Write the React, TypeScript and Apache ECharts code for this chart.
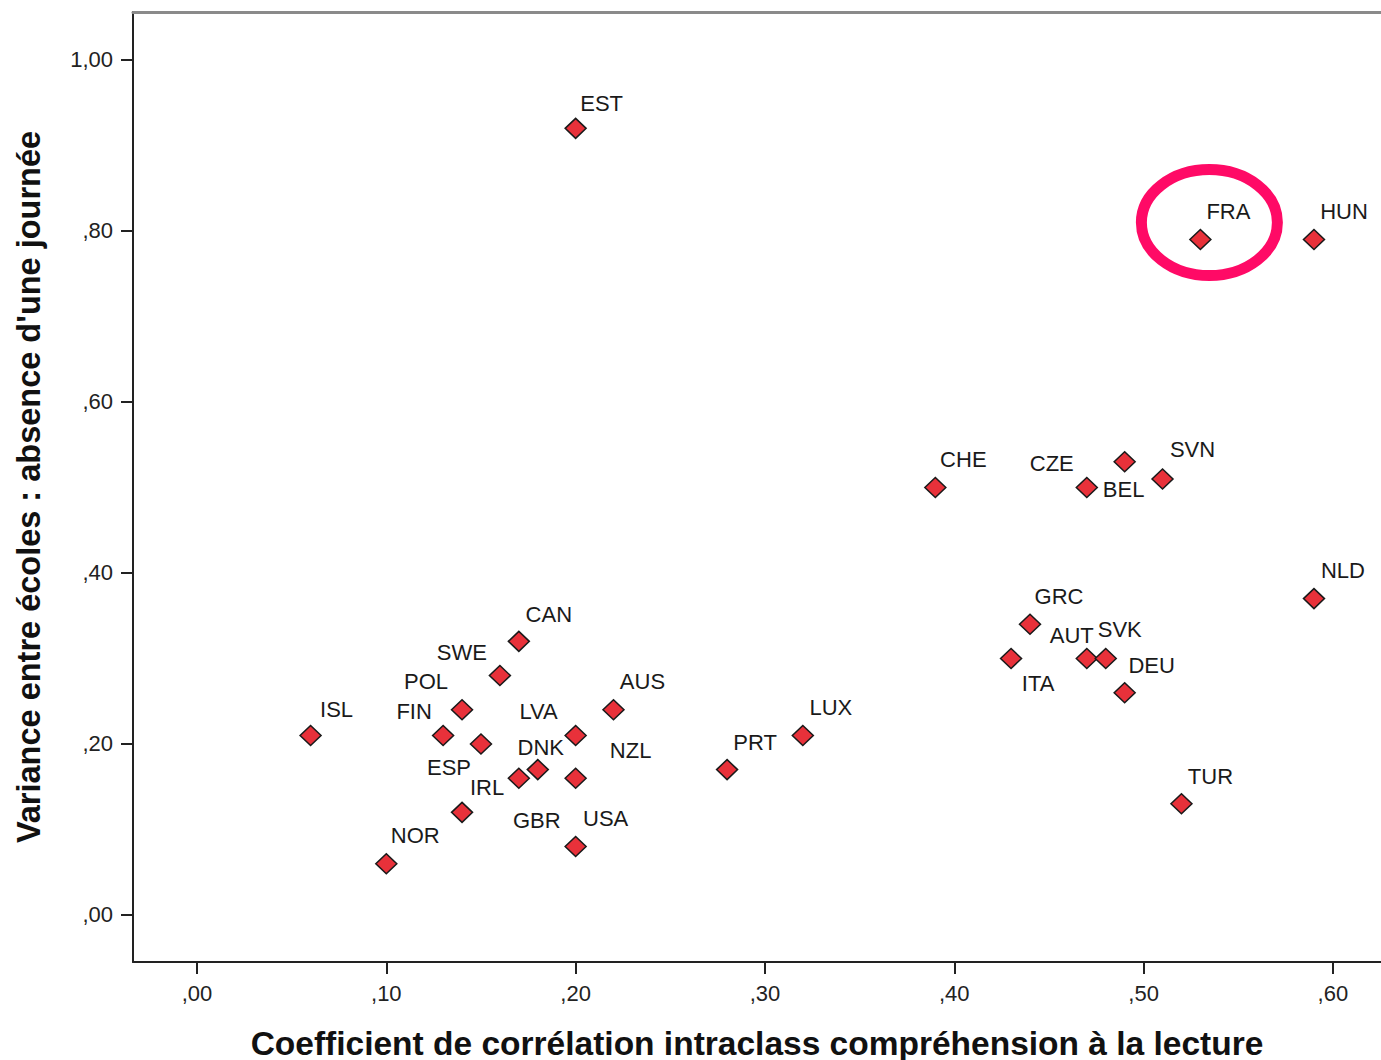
import React, { useEffect, useRef } from "react";
import * as echarts from "echarts";

const CODES = [
  "EST", "FRA", "HUN", "CHE", "CZE", "BEL", "SVN", "NLD", "GRC", "ITA",
  "AUT", "SVK", "DEU", "TUR", "LUX", "PRT", "NOR", "ISL", "CAN", "SWE",
  "POL", "FIN", "ESP", "LVA", "AUS", "GBR", "DNK", "NZL", "IRL", "USA",
];
const ICC_READING = [
  0.20, 0.53, 0.59, 0.39, 0.47, 0.49, 0.51, 0.59, 0.44, 0.43,
  0.47, 0.48, 0.49, 0.52, 0.32, 0.28, 0.10, 0.06, 0.17, 0.16,
  0.14, 0.13, 0.15, 0.20, 0.22, 0.17, 0.18, 0.20, 0.14, 0.20,
];
const VAR_ABSENCE = [
  0.92, 0.79, 0.79, 0.50, 0.50, 0.53, 0.51, 0.37, 0.34, 0.30,
  0.30, 0.30, 0.26, 0.13, 0.21, 0.17, 0.06, 0.21, 0.32, 0.28,
  0.24, 0.21, 0.20, 0.21, 0.24, 0.16, 0.17, 0.16, 0.12, 0.08,
];
const X_TICKS = [0, 0.1, 0.2, 0.3, 0.4, 0.5, 0.6];
const Y_TICKS = [0, 0.2, 0.4, 0.6, 0.8, 1.0];
const X_TITLE = "Coefficient de corrélation intraclass compréhension à la lecture";
const Y_TITLE = "Variance entre écoles : absence d'une journée";
const HIGHLIGHT = "FRA";

// label placement (pixels, relative to marker centre)
const LABEL_OFFSETS: Record<string, [number, number]> = {
  EST: [26, -25], FRA: [28, -28], HUN: [30, -28], CHE: [28, -28],
  CZE: [-35, -24], BEL: [-1, 28], SVN: [30, -29], NLD: [29, -28],
  GRC: [29, -28], ITA: [27, 25], AUT: [-15, -23], SVK: [14, -29],
  DEU: [27, -27], TUR: [29, -27], LUX: [28, -28], PRT: [28, -27],
  NOR: [29, -28], ISL: [26, -26], CAN: [30, -27], SWE: [-38, -23],
  POL: [-36, -28], FIN: [-29, -24], ESP: [-32, 24], LVA: [-37, -24],
  AUS: [29, -28], GBR: [18, 42], DNK: [3, -22], NZL: [55, -28],
  IRL: [25, -25], USA: [30, -28],
};

const FONT = "'Liberation Sans', Arial, sans-serif";

const fmt = (v: number) => {
  let s = v.toFixed(2).replace(".", ",");
  if (s.startsWith("0,")) s = s.slice(1);
  return s;
};

export default function App() {
  const ref = useRef<HTMLDivElement>(null);
  useEffect(() => {
    if (!ref.current) return;
    const chart = echarts.init(ref.current, null, { renderer: "svg" });
    const data = CODES.map((c, i) => ({
      name: c,
      value: [ICC_READING[i], VAR_ABSENCE[i]],
      label: { offset: LABEL_OFFSETS[c] || [26, -26] },
    }));
    const xMin = -0.0338, xMax = 0.6254, yMin = -0.055, yMax = 1.0561;
    chart.setOption({
      animation: false,
      backgroundColor: "#ffffff",
      grid: { left: 133, right: 0, top: 12, bottom: 98, containLabel: false, outerBoundsMode: "none" },
      xAxis: [
        {
          type: "value",
          min: xMin,
          max: xMax,
          position: "bottom",
          name: X_TITLE,
          nameLocation: "middle",
          nameGap: 66,
          nameTextStyle: { fontFamily: FONT, fontSize: 33.5, lineHeight: 30, fontWeight: "bold", color: "#111" },
          axisLine: { show: true, onZero: false, lineStyle: { color: "#222", width: 2 } },
          axisTick: { show: true, length: 12, customValues: X_TICKS, lineStyle: { color: "#222", width: 2 } },
          axisLabel: { customValues: X_TICKS, formatter: fmt, margin: 20, fontFamily: FONT, fontSize: 22, color: "#222" },
          splitLine: { show: false },
        },
        {
          type: "value",
          min: xMin,
          max: xMax,
          position: "top",
          axisLine: { show: true, onZero: false, lineStyle: { color: "#8a8a8a", width: 3 } },
          axisTick: { show: false },
          axisLabel: { show: false },
          splitLine: { show: false },
        },
      ],
      yAxis: {
        type: "value",
        min: yMin,
        max: yMax,
        name: Y_TITLE,
        nameLocation: "middle",
        nameGap: 88,
        nameTextStyle: { fontFamily: FONT, fontSize: 32.5, fontWeight: "bold", color: "#111" },
        axisLine: { show: true, onZero: false, lineStyle: { color: "#222", width: 2 } },
        axisTick: { show: true, length: 12, customValues: Y_TICKS, lineStyle: { color: "#222", width: 2 } },
        axisLabel: { customValues: Y_TICKS, formatter: fmt, margin: 20, fontFamily: FONT, fontSize: 22, color: "#222" },
        splitLine: { show: false },
      },
      series: [
        {
          type: "scatter",
          xAxisIndex: 0,
          symbol: "diamond",
          symbolSize: [21, 20],
          itemStyle: { color: "#e8313a", borderColor: "#1a1a1a", borderWidth: 1.5, opacity: 1 },
          label: {
            show: true,
            position: "inside",
            formatter: "{b}",
            fontFamily: FONT,
            fontSize: 22,
            color: "#1a1a1a",
            textBorderWidth: 0,
            align: "center",
            verticalAlign: "middle",
          },
          emphasis: { disabled: true },
          data,
        },
      ],
    });
    const i = CODES.indexOf(HIGHLIGHT);
    const p = chart.convertToPixel({ gridIndex: 0 }, [ICC_READING[i], VAR_ABSENCE[i]]) as number[];
    chart.setOption({
      graphic: [
        {
          type: "ellipse",
          shape: { cx: p[0] + 9, cy: p[1] - 17, rx: 68, ry: 53 },
          style: { fill: "none", stroke: "#ff0a66", lineWidth: 11 },
          z: 100,
        },
      ],
    });
    return () => chart.dispose();
  }, []);
  return (
    <div
      ref={ref}
      style={{ position: "absolute", left: 0, top: 0, width: 1381, height: 1060 }}
    />
  );
}
